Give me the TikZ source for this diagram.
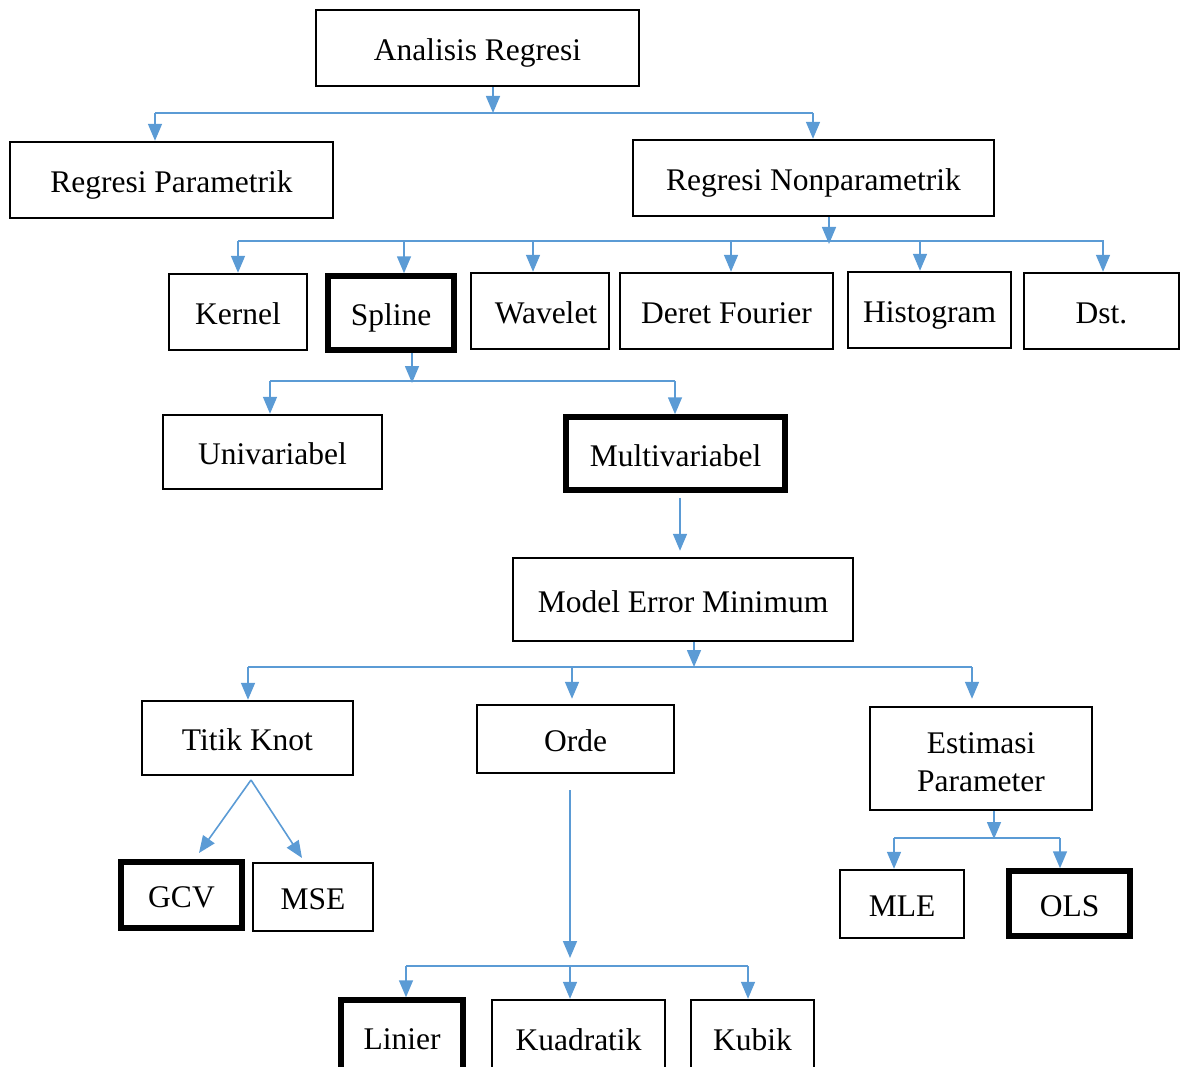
\documentclass[tikz,border=0pt]{standalone}
\usepackage{fontspec}
\setmainfont{Liberation Serif}
\usetikzlibrary{arrows.meta}

\definecolor{linkblue}{RGB}{91,155,213}
\tikzset{
	box/.style={draw, line width=2.4pt, inner sep=0pt, align=center,
		text height=25pt, text depth=0pt,
		font=\fontsize{31.5}{38}\selectfont},
	boldbox/.style={box, line width=5.5pt},
	link/.style={draw=linkblue, line width=1.6pt},
	arr/.style={link, -{Triangle[length=17pt,width=14pt]}},
}

\begin{document}
\begin{tikzpicture}[x=1pt,y=-1pt]
	\useasboundingbox (0,0) rectangle (1182,1067);
	\clip (0,0) rectangle (1182,1067);

	\node[box, minimum width=323, minimum height=76] (analisis) at (477.5,48) {Analisis Regresi};
	\node[box, minimum width=323, minimum height=76] (param) at (171.5,180) {Regresi Parametrik};
	\node[box, minimum width=361, minimum height=76] (nonpar) at (813.5,178) {Regresi Nonparametrik};

	\node[box, minimum width=138, minimum height=76] (kernel) at (238,312) {Kernel};
	\node[boldbox, minimum width=126, minimum height=74] (spline) at (391,313) {Spline};
	\node[box, minimum width=138, minimum height=76] (wavelet) at (540,311) {\hspace*{12pt}Wavelet};
	\node[box, minimum width=213, minimum height=76] (fourier) at (726.5,311) {Deret Fourier};
	\node[box, minimum width=163, minimum height=76] (histo) at (929.5,310) {Histogram};
	\node[box, minimum width=155, minimum height=76] (dst) at (1101.5,311) {Dst.};

	\node[box, minimum width=219, minimum height=74] (univ) at (272.5,452) {Univariabel};
	\node[boldbox, minimum width=219, minimum height=73] (multi) at (675.5,453.5) {Multivariabel};

	\node[box, minimum width=340, minimum height=83] (model) at (683,599.5) {Model Error Minimum};

	\node[box, minimum width=211, minimum height=74] (titik) at (247.5,738) {Titik Knot};
	\node[box, minimum width=197, minimum height=68] (orde) at (575.5,739) {Orde};
	\node[box, text height=65pt, minimum width=222, minimum height=103] (estimasi) at (981,758.5) {Estimasi\\Parameter};

	\node[boldbox, minimum width=121, minimum height=66] (gcv) at (181.5,895) {GCV};
	\node[box, minimum width=120, minimum height=68] (mse) at (313,897) {MSE};
	\node[box, minimum width=124, minimum height=68] (mle) at (902,904) {MLE};
	\node[boldbox, minimum width=121, minimum height=65] (ols) at (1069.5,903.5) {OLS};

	\node[boldbox, minimum width=122, minimum height=74] (linier) at (402,1037) {Linier};
	\node[box, minimum width=173, minimum height=76] (kuadratik) at (578.5,1038) {Kuadratik};
	\node[box, minimum width=123, minimum height=76] (kubik) at (752.5,1038) {Kubik};

	% analisis regresi
	\coordinate (j0) at (493,113);
	\coordinate (j0l) at (155,113);
	\coordinate (j0r) at (813,113);
	\draw[arr] (analisis.south -| j0) -- (j0);
	\draw[link] (j0l) -- (j0r);
	\draw[arr] (j0l) -- (param.north -| j0l);
	\draw[arr] (j0r) -- (nonpar.north -| j0r);

	% nonparametrik
	\coordinate (j1) at (829,244);
	\coordinate (j1l) at (238,241);
	\coordinate (j1r) at (1104,241);
	\draw[arr] (nonpar.south -| j1) -- (j1);
	\draw[link] (j1l) -- (j1r);
	\foreach \n/\x in {kernel/238, spline/404, wavelet/533, fourier/731, histo/920, dst/1103}
		\draw[arr] (\x,0 |- j1l) -- (\x,0 |- \n.north);

	% spline
	\coordinate (j2) at (412,383);
	\coordinate (j2l) at (270,381);
	\coordinate (j2r) at (675,381);
	\draw[arr] (spline.south -| j2) -- (j2);
	\draw[link] (j2l) -- (j2r);
	\draw[arr] (j2l) -- (univ.north -| j2l);
	\draw[arr] (j2r) -- (multi.north -| j2r);

	\draw[arr, shorten <=5pt, shorten >=6pt] (680,0 |- multi.south) -- (680,0 |- model.north);

	% model error minimum
	\coordinate (j3) at (694,667);
	\coordinate (j3l) at (248,667);
	\coordinate (j3r) at (972,667);
	\draw[arr] (model.south -| j3) -- (j3);
	\draw[link] (j3l) -- (j3r);
	\draw[arr] (j3l) -- (titik.north -| j3l);
	\draw[arr, shorten >=5pt] (572,0 |- j3) -- (572,0 |- orde.north);
	\draw[arr, shorten >=7pt] (j3r) -- (estimasi.north -| j3r);

	% titik knot
	\coordinate (tk) at (251,780);
	\coordinate (gcvin) at (199,853);
	\coordinate (msein) at (302,858);
	\draw[arr] (tk) -- (gcvin);
	\draw[arr] (tk) -- (msein);

	% orde
	\coordinate (j4) at (570,966);
	\coordinate (j4l) at (406,966);
	\coordinate (j4r) at (748,966);
	\draw[arr, shorten <=16pt, shorten >=8pt] (orde.south -| j4) -- (j4);
	\draw[link] (j4l) -- (j4r);
	\draw[arr] (j4l) -- (linier.north -| j4l);
	\draw[arr] (j4) -- (kuadratik.north -| j4);
	\draw[arr] (j4r) -- (kubik.north -| j4r);

	% estimasi parameter
	\coordinate (j5) at (994,839);
	\coordinate (j5l) at (894,838);
	\coordinate (j5r) at (1060,838);
	\draw[arr] (estimasi.south -| j5) -- (j5);
	\draw[link] (j5l) -- (j5r);
	\draw[arr] (j5l) -- (mle.north -| j5l);
	\draw[arr] (j5r) -- (ols.north -| j5r);
\end{tikzpicture}
\end{document}
